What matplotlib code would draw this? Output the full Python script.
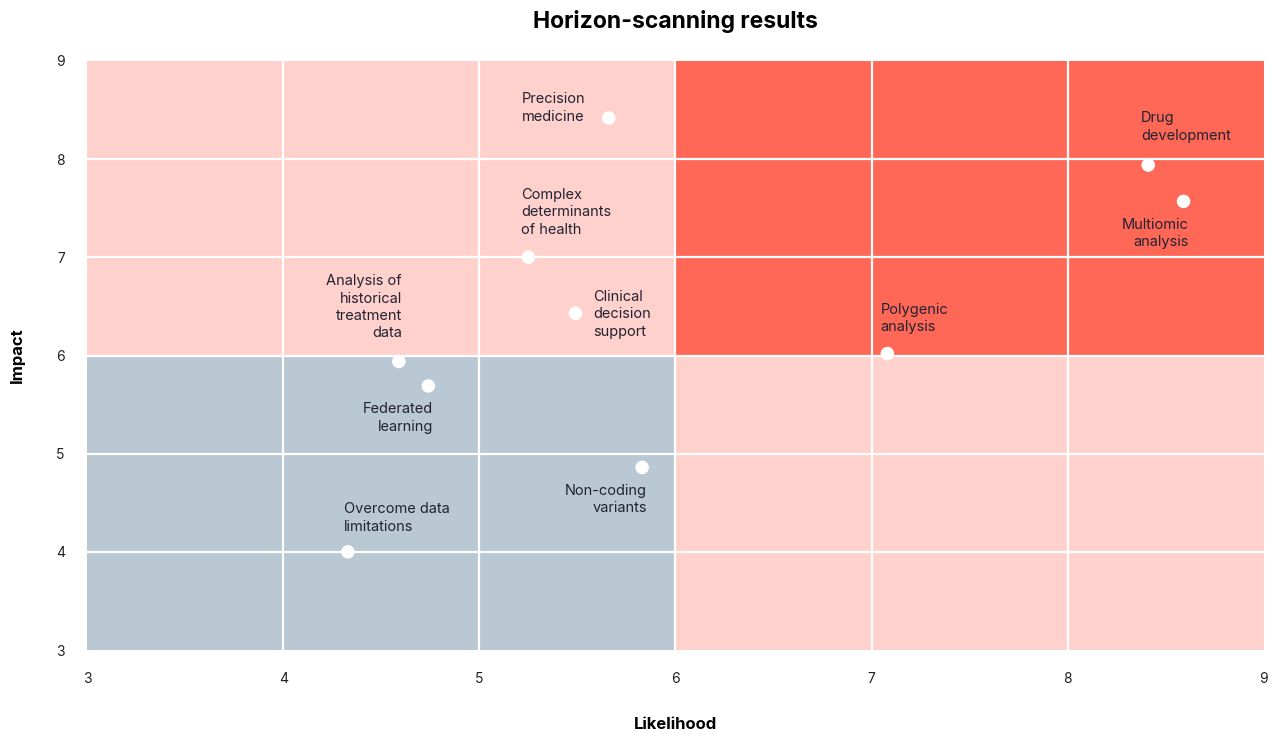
"""
Horizon-scanning results: impact vs likelihood scatter on a quadrant background
"""
import numpy as np
import matplotlib.pyplot as plt
from matplotlib.patches import Rectangle

plt.rcParams['font.family'] = ['Inter', 'DejaVu Sans']

# Topics and their scores
topics = ['Precision\nmedicine', 'Drug\ndevelopment', 'Multiomic\nanalysis',
          'Complex\ndeterminants\nof health', 'Clinical\ndecision\nsupport',
          'Analysis of\nhistorical\ntreatment\ndata', 'Federated\nlearning',
          'Polygenic\nanalysis', 'Non-coding\nvariants', 'Overcome data\nlimitations']
likelihood = [5.66, 8.41, 8.59, 5.25, 5.49, 4.59, 4.74, 7.08, 5.83, 4.33]
impact = [8.42, 7.94, 7.57, 7.00, 6.43, 5.94, 5.69, 6.02, 4.86, 4.00]

# Label placement: offset from the dot in pixels and alignment
offsets = [(-87, 10), (-7, 38), (5, -32), (-7, 45), (18, -1),
           (3, 54), (5, -32), (-7, 35), (5, -32), (-4, 34)]
aligns = ['left', 'left', 'right', 'left', 'left',
          'right', 'right', 'left', 'right', 'left']

# Quadrants: (x0, y0, width, height, colour)
pink = '#ffd1cc'
red = '#ff6856'
grey = '#bac8d3'
quadrants = [(3, 6, 3, 3, pink), (6, 6, 3, 3, red),
             (3, 3, 3, 3, grey), (6, 3, 3, 3, pink)]

fig = plt.figure(figsize=(12.77, 7.34), dpi=100)
ax = fig.add_axes([0.0681, 0.1144, 0.9217, 0.8025])

for x0, y0, w, h, c in quadrants:
    ax.add_patch(Rectangle((x0, y0), w, h, facecolor=c, edgecolor='none', zorder=0))

# White grid at every whole number
for v in range(4, 9):
    ax.axvline(v, color='white', lw=1.6, zorder=1)
for v in range(4, 9):
    ax.axhline(v, color='white', lw=1.6, zorder=1)

ax.scatter(likelihood, impact, s=95, color='white', edgecolor='none', zorder=3)

px = 72 / fig.dpi
for name, x, y, (dx, dy), ha in zip(topics, likelihood, impact, offsets, aligns):
    ax.annotate(name, (x, y), xytext=(dx * px, dy * px), textcoords='offset points',
                ha=ha, va='center', multialignment=ha, fontsize=10.5,
                color='#222233', linespacing=1.3, zorder=4)

ax.set_xlim(3, 9)
ax.set_ylim(3, 9)
ax.set_xticks(np.arange(3, 10))
ax.set_yticks(np.arange(3, 10))
ax.tick_params(length=0, labelsize=10, pad=16, colors='#222222')
for s in ax.spines.values():
    s.set_visible(False)

ax.set_xlabel('Likelihood', fontsize=12, fontweight='bold', labelpad=22)
ax.set_ylabel('Impact', fontsize=12, fontweight='bold', labelpad=22)
ax.set_title('Horizon-scanning results', fontsize=16.5, fontweight='bold', pad=24)

fig.savefig('out.png', dpi=100, facecolor='white')
